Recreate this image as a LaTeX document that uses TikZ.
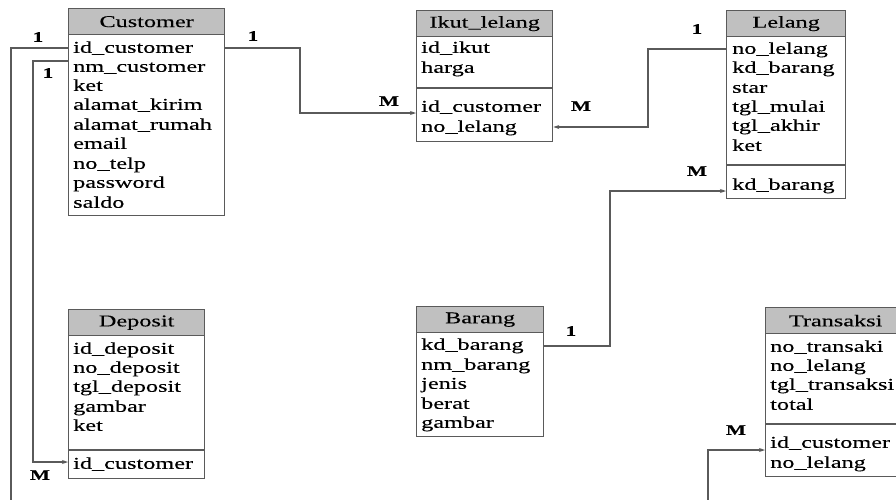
\documentclass[tikz,border=0pt]{standalone}
\usepackage{fontspec}
\setmainfont[FakeStretch=1.47, FakeBold=0.25]{Liberation Serif}
\usetikzlibrary{arrows.meta}
\definecolor{hdrgray}{HTML}{C0C0C0}
\definecolor{linegray}{HTML}{5A5A5A}
\begin{document}
\begin{tikzpicture}[x=1pt,y=-1pt,
 hdr/.style={draw=linegray, line width=1.3pt, fill=hdrgray, anchor=north west, inner sep=0pt, font=\fontsize{16.5}{19}\selectfont},
 bodybox/.style={draw=linegray, line width=1.3pt, fill=white, anchor=north west, inner sep=0pt},
 fld/.style={anchor=mid west, inner sep=0pt, yshift=-2.5pt, font=\fontsize{16.5}{19}\selectfont},
 card/.style={font=\bfseries\fontsize{14.5}{16}\selectfont, inner sep=0pt},
 conn/.style={draw=linegray, line width=1.1pt},
 arr/.style={conn, -{Stealth[length=6pt,width=4pt]}}
]
\useasboundingbox (0,0) rectangle (896,499);
\fill[white] (0,0) rectangle (896,499);

% Customer
\node[bodybox, minimum width=156pt, minimum height=181pt] (cb) at (68,34) {};
\node[hdr, minimum width=156pt, minimum height=26pt] (ch) at (68,8) {Customer};
\node[fld] (c1) at (73,48) {id\_customer};
\node[fld] (c2) at (73,67) {nm\_customer};
\node[fld] (c3) at (73,86) {ket};
\node[fld] (c4) at (73,105) {alamat\_kirim};
\node[fld] (c5) at (73,125) {alamat\_rumah};
\node[fld] (c6) at (73,144) {email};
\node[fld] (c7) at (73,164) {no\_telp};
\node[fld] (c8) at (73,183) {password};
\node[fld] (c9) at (73,203) {saldo};

% Ikut_lelang
\node[bodybox, minimum width=136pt, minimum height=105pt] (ib) at (416,36) {};
\node[hdr, minimum width=136pt, minimum height=26pt] (ih) at (416,10) {Ikut\_lelang};
\draw[draw=linegray, line width=1.3pt] (416,88) -- (552,88);
\node[fld] (i1) at (421,48) {id\_ikut};
\node[fld] (i2) at (421,68) {harga};
\node[fld] (i3) at (421,107) {id\_customer};
\node[fld] (i4) at (421,127) {no\_lelang};

% Lelang
\node[bodybox, minimum width=119pt, minimum height=162pt] (lb) at (726,36) {};
\node[hdr, minimum width=119pt, minimum height=26pt] (lh) at (726,10) {Lelang};
\draw[draw=linegray, line width=1.3pt] (726,165) -- (845,165);
\node[fld] (l1) at (732,49) {no\_lelang};
\node[fld] (l2) at (732,68) {kd\_barang};
\node[fld] (l3) at (732,88) {star};
\node[fld] (l4) at (732,107) {tgl\_mulai};
\node[fld] (l5) at (732,126) {tgl\_akhir};
\node[fld] (l6) at (732,146) {ket};
\node[fld] (l7) at (732,185) {kd\_barang};

% Deposit
\node[bodybox, minimum width=136pt, minimum height=143pt] (db) at (68,335) {};
\node[hdr, minimum width=136pt, minimum height=26pt] (dh) at (68,309) {Deposit};
\draw[draw=linegray, line width=1.3pt] (68,450) -- (204,450);
\node[fld] (d1) at (73,349) {id\_deposit};
\node[fld] (d2) at (73,368) {no\_deposit};
\node[fld] (d3) at (73,387) {tgl\_deposit};
\node[fld] (d4) at (73,407) {gambar};
\node[fld] (d5) at (73,426) {ket};
\node[fld] (d6) at (73,464) {id\_customer};

% Barang
\node[bodybox, minimum width=127pt, minimum height=104pt] (bb) at (416,332) {};
\node[hdr, minimum width=127pt, minimum height=26pt] (bh) at (416,306) {Barang};
\node[fld] (b1) at (421,345) {kd\_barang};
\node[fld] (b2) at (421,365) {nm\_barang};
\node[fld] (b3) at (421,384) {jenis};
\node[fld] (b4) at (421,404) {berat};
\node[fld] (b5) at (421,423) {gambar};

% Transaksi
\node[bodybox, minimum width=140pt, minimum height=143pt] (tb) at (765,333) {};
\node[hdr, minimum width=140pt, minimum height=26pt, text width=124pt, align=center] (th) at (765,307) {Transaksi};
\draw[draw=linegray, line width=1.3pt] (765,424) -- (905,424);
\node[fld] (t1) at (770,347) {no\_transaki};
\node[fld] (t2) at (770,366) {no\_lelang};
\node[fld] (t3) at (770,385) {tgl\_transaksi};
\node[fld] (t4) at (770,405) {total};
\node[fld] (t5) at (770,443) {id\_customer};
\node[fld] (t6) at (770,463) {no\_lelang};

% free ends
\coordinate (endA) at (11,505);
\coordinate (endB) at (708,505);

% connectors
\draw[conn] (cb.west |- 0,48) -- (11,48) -- (endA);
\draw[arr] (cb.west |- 0,61) -- (33,61) -- (33,462) -- (db.west |- 0,462);
\draw[arr] (cb.east |- 0,48) -- (300,48) -- (300,113) -- (ib.west |- 0,113);
\draw[arr] (lb.west |- 0,49) -- (648,49) -- (648,127) -- (ib.east |- 0,127);
\draw[arr] (bb.east |- 0,346) -- (610,346) -- (610,191) -- (lb.west |- 0,191);
\draw[arr] (endB) -- (708,450) -- (tb.west |- 0,450);

% cardinalities
\node[card] at (38,37) {1};
\node[card] at (48,73) {1};
\node[card] at (40,475) {M};
\node[card] at (253,36) {1};
\node[card] at (389,101) {M};
\node[card] at (697,29) {1};
\node[card] at (581,106) {M};
\node[card] at (571,331) {1};
\node[card] at (697,171) {M};
\node[card] at (736,430) {M};
\end{tikzpicture}
\end{document}
